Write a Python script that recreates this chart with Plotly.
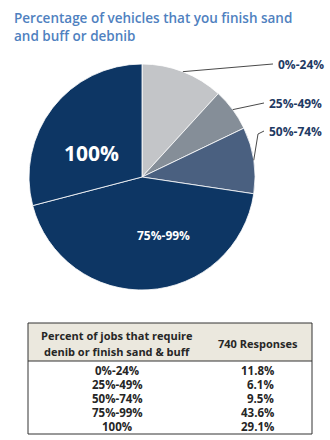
import math
import plotly.graph_objects as go

# Survey results: share of vehicles that get finish sand & buff or denib
categories = ["0%-24%", "25%-49%", "50%-74%", "75%-99%", "100%"]
shares = [11.8, 6.1, 9.5, 43.6, 29.1]
share_labels = ["11.8%", "6.1%", "9.5%", "43.6%", "29.1%"]
slice_colors = ["#c3c5c8", "#858e98", "#4a6080", "#0d3664", "#0d3664"]
responses_header = "740 Responses"
category_header = ["Percent of jobs that require", "denib or finish sand & buff"]

W, H = 330, 440
CX, CY, R = 142, 177, 113          # pie centre / radius in px
LABEL_FONT = "Open Sans"
NAVY_TEXT = "#1f3a63"
TABLE_TEXT = "#262626"

# outside labels for the small slices (left edge of label, px)
outside_pos = {"0%-24%": (276, 64), "25%-49%": (267, 103), "50%-74%": (267, 131)}
# inside labels for the large slices (centre, px) and font size
inside_pos = {"75%-99%": (163, 235, 12), "100%": (91, 153, 21)}


def px_to_paper(x, y):
    return x / W, 1 - y / H


fig = go.Figure()

x0, y1 = px_to_paper(CX - R, CY - R)
x1, y0 = px_to_paper(CX + R, CY + R)
fig.add_trace(go.Pie(
    labels=categories,
    values=shares,
    sort=False,
    direction="clockwise",
    rotation=0,
    marker=dict(colors=slice_colors, line=dict(color="#ffffff", width=0.8)),
    textinfo="none",
    hoverinfo="label+percent",
    showlegend=False,
    domain=dict(x=[x0, x1], y=[y0, y1]),
))

annotations = []
shapes = []
total = sum(shares)
cum = 0.0
for cat, val in zip(categories, shares):
    mid = (cum + val / 2) / total * 2 * math.pi
    cum += val
    if cat in outside_pos:
        # leader line from the slice's outer edge to its label
        ex, ey = CX + R * math.sin(mid), CY - R * math.cos(mid)
        lx, ly = outside_pos[cat]
        pts = [(ex, ey)]
        if cat == "50%-74%":
            pts.append((lx - 9, ly + 3))
        pts.append((lx - 3, ly))
        path = "M " + " L ".join(
            f"{px_to_paper(px, py)[0]:.5f},{px_to_paper(px, py)[1]:.5f}" for px, py in pts)
        shapes.append(dict(type="path", xref="paper", yref="paper", path=path,
                           line=dict(color="#4a4a4a", width=1)))
        ax, ay = px_to_paper(lx, ly)
        annotations.append(dict(x=ax, y=ay, xref="paper", yref="paper", text=cat,
                                showarrow=False, xanchor="left", yanchor="middle",
                                font=dict(family=LABEL_FONT, size=12, color=NAVY_TEXT,
                                          weight="bold")))
    else:
        tx, ty, fs = inside_pos[cat]
        ax, ay = px_to_paper(tx, ty)
        annotations.append(dict(x=ax, y=ay, xref="paper", yref="paper", text=cat,
                                showarrow=False, xanchor="center", yanchor="middle",
                                font=dict(family=LABEL_FONT, size=fs, color="#ffffff",
                                          weight="bold")))

# title
annotations.append(dict(
    x=12 / W, y=1 - 7 / H, xref="paper", yref="paper", xanchor="left", yanchor="top",
    align="left", showarrow=False,
    text="Percentage of vehicles that you finish sand<br>and buff or debnib",
    font=dict(family=LABEL_FONT, size=13.5, color="#4f81c0", weight=600)))

# summary table: header band, frame, and one text per cell
TX0, TX1, TY0, TY1, HEAD_BOTTOM = 28, 312, 323, 434, 361
COL1_CENTER, COL2_RIGHT, HEAD2_CENTER = 117, 276, 258
ROW_Y0, ROW_STEP = 370, 14.1

tx0, ty1 = px_to_paper(TX0, TY0)
tx1, ty0 = px_to_paper(TX1, TY1)
hy = px_to_paper(0, HEAD_BOTTOM)[1]
shapes.append(dict(type="rect", xref="paper", yref="paper", x0=tx0, x1=tx1, y0=hy, y1=ty1,
                   fillcolor="#ebe8de", line=dict(width=0), layer="below"))
shapes.append(dict(type="rect", xref="paper", yref="paper", x0=tx0, x1=tx1, y0=ty0, y1=ty1,
                   line=dict(color="#333333", width=1)))
shapes.append(dict(type="line", xref="paper", yref="paper", x0=tx0, x1=tx1, y0=hy, y1=hy,
                   line=dict(color="#333333", width=1)))

cell_font = dict(family=LABEL_FONT, size=11.5, color=TABLE_TEXT, weight="bold")
head_font = dict(family=LABEL_FONT, size=11, color=TABLE_TEXT, weight="bold")
for i, line in enumerate(category_header):
    ax, ay = px_to_paper(COL1_CENTER, 335 + 16 * i)
    annotations.append(dict(x=ax, y=ay, xref="paper", yref="paper", text=line,
                            showarrow=False, xanchor="center", yanchor="middle",
                            font=head_font))
ax, ay = px_to_paper(HEAD2_CENTER, 343)
annotations.append(dict(x=ax, y=ay, xref="paper", yref="paper", text=responses_header,
                        showarrow=False, xanchor="center", yanchor="middle", font=head_font))
for i, (cat, lab) in enumerate(zip(categories, share_labels)):
    ry = ROW_Y0 + ROW_STEP * i
    ax, ay = px_to_paper(COL1_CENTER, ry)
    annotations.append(dict(x=ax, y=ay, xref="paper", yref="paper", text=cat,
                            showarrow=False, xanchor="center", yanchor="middle",
                            font=cell_font))
    ax, ay = px_to_paper(COL2_RIGHT, ry)
    annotations.append(dict(x=ax, y=ay, xref="paper", yref="paper", text=lab,
                            showarrow=False, xanchor="right", yanchor="middle",
                            font=cell_font))

fig.update_layout(width=W, height=H, margin=dict(l=0, r=0, t=0, b=0),
                  paper_bgcolor="#ffffff", plot_bgcolor="#ffffff",
                  annotations=annotations, shapes=shapes)
fig.write_html("out.html")
